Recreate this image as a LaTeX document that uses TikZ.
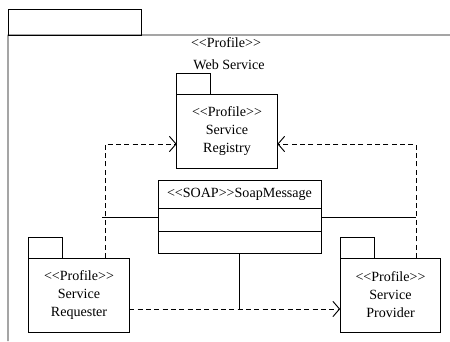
\documentclass[tikz,border=0pt]{standalone}
\usepackage{fontspec}
\setmainfont{Liberation Serif}
\usetikzlibrary{arrows.meta}
\newcommand{\stereo}[1]{<\kern0pt<#1>\kern0pt>}

\begin{document}
\begin{tikzpicture}[x=0.3mm, y=-0.3mm, line width=0.8pt,
    every node/.style={font=\fontsize{12}{15.4}\selectfont, inner sep=0pt, outer sep=0pt},
    pkgbody/.style={draw, align=center, minimum width=30.2mm, minimum height=22.2mm},
    pkgtab/.style={draw, anchor=south west, minimum width=10.2mm, minimum height=6.3mm},
    classpart/.style={draw, minimum width=48.9mm},
    dep/.style={dash pattern=on 1.5mm off 1mm, -{Straight Barb[length=2mm, width=4.6mm]}}]
    \useasboundingbox (0,0) rectangle (450,341);

    % Outer package
    \node[draw, anchor=north west, minimum width=39.9mm, minimum height=7.8mm] (outertab) at (8,9) {};
    \draw (8,341) -- (outertab.south west) -- (450,35);
    \node (ttl) at (226,43) {\stereo{Profile}};
    \node (ttlname) at (229,65) {Web Service};

    % Inner packages
    \node[pkgbody] (reg) at (227,131) {\stereo{Profile}\\Service\\Registry};
    \node[pkgtab] (regtab) at (reg.north west) {};
    \node[pkgbody] (req) at (79,295) {\stereo{Profile}\\Service\\Requester};
    \node[pkgtab] (reqtab) at (req.north west) {};
    \node[pkgbody] (prov) at (390.5,295) {\stereo{Profile}\\Service\\Provider};
    \node[pkgtab] (provtab) at (prov.north west) {};

    % Message class
    \node[classpart, minimum height=8.4mm] (soaphead) at (239.5,194) {\stereo{SOAP}SoapMessage};
    \node[classpart, minimum height=6.9mm, anchor=north] (soapattr) at (soaphead.south) {};
    \node[classpart, minimum height=6.6mm, anchor=north] (soapop) at (soapattr.south) {};

    % Bend points and free ends
    \coordinate (lbend) at (105,144);
    \coordinate (rbend) at (416,144);
    \coordinate (mid) at (239.5,309);
    \coordinate (lend) at (102,217);
    \coordinate (rend) at (416,217);

    % Dependencies
    \draw[dep] (req.north -| lbend) -- (lbend) -- (reg.west |- lbend);
    \draw[dep] (prov.north -| rbend) -- (rbend) -- (reg.east |- rbend);
    \draw[dep] (req.east |- mid) -- (prov.west |- mid);

    % Message links
    \draw (lend) -- (soapattr.west |- lend);
    \draw (soapattr.east |- rend) -- (rend);
    \draw (soapop.south) -- (soapop.south |- mid);
\end{tikzpicture}
\end{document}
